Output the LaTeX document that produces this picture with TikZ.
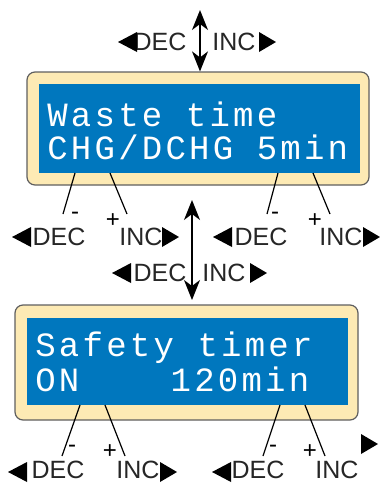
\documentclass[tikz,border=0pt]{standalone}
\usepackage{fontspec}
\setmainfont{Liberation Sans}
\newfontfamily\lcdfont[LetterSpace=9.5]{Liberation Mono}
\usepackage{xcolor}
\usetikzlibrary{positioning, arrows.meta}

\definecolor{lcdblue}{RGB}{0,119,190}
\definecolor{panelfill}{RGB}{253,234,180}
\definecolor{paneledge}{RGB}{95,95,95}

\newcommand{\lefttri}[2]{\fill[tri] (#1,#2) -- ++(19,-10) -- ++(0,20) -- cycle;}
\newcommand{\righttri}[2]{\fill[tri] (#1,#2) -- ++(-17,-10) -- ++(0,20) -- cycle;}

\begin{document}
\begin{tikzpicture}[x=0.5pt, y=-0.5pt,
      panel/.style={rectangle, rounded corners=4pt, draw=paneledge, fill=panelfill, line width=0.6pt},
      screen/.style={rectangle, fill=lcdblue, inner sep=0pt},
      lcd/.style={font=\lcdfont\fontsize{17}{18}\selectfont, text=white, inner sep=0pt, text height=12pt, text depth=0pt, anchor=base west},
      key/.style={font=\fontsize{12.5}{12.5}\selectfont, text=black!85, inner sep=0pt},
      sign/.style={font=\fontsize{12}{12}\selectfont, inner sep=0pt},
      lead/.style={line width=0.6pt},
      updown/.style={{Stealth[length=10pt,width=8pt,inset=3pt]}-{Stealth[length=10pt,width=8pt,inset=3pt]}, line width=0.8pt},
      tri/.style={fill=black}
    ]
      \useasboundingbox (0,0) rectangle (380,483);

      % Panels
      \node[panel, minimum width=171pt, minimum height=56.5pt] (panel1) at (198,128.5) {};
      \node[screen, minimum width=160.5pt, minimum height=44.5pt] (screen1) at (199.5,128.5) {};
      \node[lcd] (line1a) at (47,126) {Waste time};
      \node[lcd] (line1b) at (47,159) {CHG/DCHG 5min};

      \node[panel, minimum width=171.5pt, minimum height=57.5pt] (panel2) at (186.5,362.5) {};
      \node[screen, minimum width=160.5pt, minimum height=43.5pt] (screen2) at (187.5,361.5) {};
      \node[lcd] (line2a) at (35,356) {Safety timer};
      \node[lcd] (line2b) at (35,391) {ON\phantom{0000}120min};

      % Top keys
      \node[key] (topdec) at (160,42) {DEC};
      \node[key] (topinc) at (234,42) {INC};
      \lefttri{118}{42}
      \righttri{276}{42}
      \coordinate (toptip) at (200,10);
      \draw[updown] (toptip) -- (toptip |- panel1.north);

      % Keys under first panel
      \node[key] (dec1) at (59,237) {DEC};
      \node[key] (inc1) at (141,237) {INC};
      \node[sign] (minus1) at (75,216) {-};
      \node[sign] (plus1) at (113,221) {+};
      \lefttri{12}{237}
      \righttri{179}{237}
      \node[key] (dec2) at (261,237) {DEC};
      \node[key] (inc2) at (341,237) {INC};
      \node[sign] (minus2) at (275,216) {-};
      \node[sign] (plus2) at (315,221) {+};
      \lefttri{213}{237}
      \righttri{380}{237}

      \coordinate (a1) at (75,173);  \coordinate (a2) at (63,214);
      \coordinate (b1) at (110,173); \coordinate (b2) at (127,214);
      \coordinate (c1) at (278,173); \coordinate (c2) at (267,214);
      \coordinate (d1) at (313,173); \coordinate (d2) at (330,214);
      \draw[lead] (a1) -- (a2);
      \draw[lead] (b1) -- (b2);
      \draw[lead] (c1) -- (c2);
      \draw[lead] (d1) -- (d2);

      % Middle keys
      \node[key] (middec) at (160,273) {DEC};
      \node[key] (midinc) at (224,273) {INC};
      \lefttri{112}{273}
      \righttri{267}{273}
      \coordinate (midtop) at (192,200);
      \coordinate (midbot) at (192,300);
      \draw[updown] (midtop) -- (midbot);

      % Keys under second panel
      \node[key] (dec3) at (58,470) {DEC};
      \node[key] (inc3) at (138,470) {INC};
      \node[sign] (minus3) at (72,449) {-};
      \node[sign] (plus3) at (110,452) {+};
      \lefttri{8}{472}
      \righttri{177}{472}
      \node[key] (dec4) at (258,470) {DEC};
      \node[key] (inc4) at (337,470) {INC};
      \node[sign] (minus4) at (273,449) {-};
      \node[sign] (plus4) at (310,452) {+};
      \lefttri{212}{472}
      \righttri{378}{444}

      \coordinate (e1) at (80,405);  \coordinate (e2) at (62,456);
      \coordinate (f1) at (105,405); \coordinate (f2) at (125,456);
      \coordinate (g1) at (280,405); \coordinate (g2) at (263,456);
      \coordinate (h1) at (305,405); \coordinate (h2) at (325,456);
      \draw[lead] (e1) -- (e2);
      \draw[lead] (f1) -- (f2);
      \draw[lead] (g1) -- (g2);
      \draw[lead] (h1) -- (h2);
    \end{tikzpicture}
\end{document}
